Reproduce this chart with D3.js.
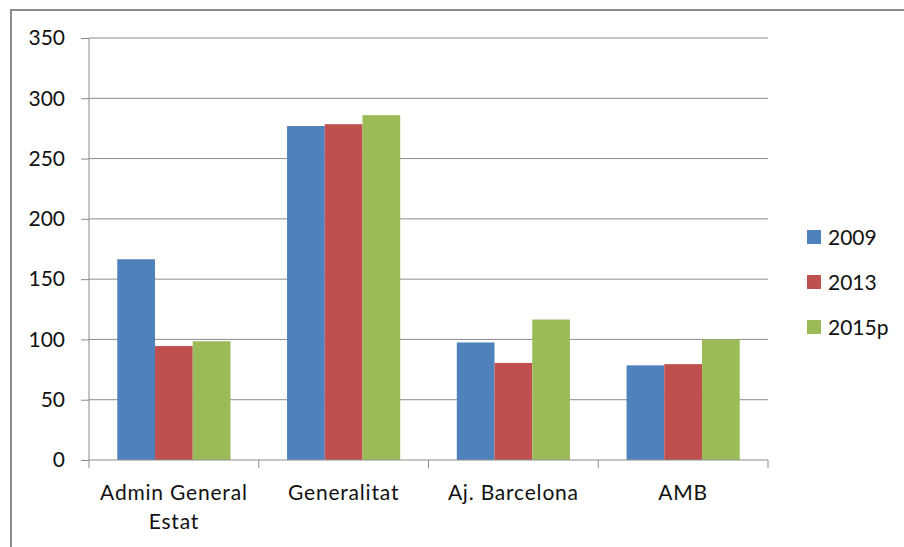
<!DOCTYPE html>
<html lang="ca">
<head>
    <meta charset="UTF-8">
    <title>Despesa per administració</title>
    <style>
        body { margin: 0; background: #fff; }
        svg text { font-family: Lato, 'Noto Sans', sans-serif; fill: #111; }
        .cat { letter-spacing: 0.8px; }
    </style>
</head>
<body>
    <svg id="chart" width="904" height="547"></svg>

    <script src="https://d3js.org/d3.v7.min.js"></script>
    <script>
        // data
        const categories = [["Admin General", "Estat"], ["Generalitat"], ["Aj. Barcelona"], ["AMB"]];
        const seriesNames = ["2009", "2013", "2015p"];
        const values2009 = [166.5, 277, 97.5, 78.5];
        const values2013 = [94.5, 278.5, 80.5, 79.5];
        const values2015p = [98.5, 286, 116.5, 100];
        const yTicks = [0, 50, 100, 150, 200, 250, 300, 350];
        const colors = ["#4F81BD", "#C0504D", "#9BBB59"];

        const allSeries = [values2009, values2013, values2015p];
        const svg = d3.select("#chart");

        // outer frame (only top and left edges are in view)
        svg.append("path")
            .attr("d", "M11,560 V10 H910")
            .attr("fill", "none")
            .attr("stroke", "#8a8a8a")
            .attr("stroke-width", 2);

        const plotL = 89, plotR = 768, plotT = 38, plotB = 460;

        const x0 = d3.scaleBand()
            .domain(d3.range(categories.length))
            .range([plotL, plotR])
            .paddingInner(0)
            .paddingOuter(0);

        const bw = x0.bandwidth() / 4.5;   // gap width 150%

        const y = d3.scaleLinear().domain([0, 350]).range([plotB, plotT]);

        // gridlines
        svg.append("g")
            .selectAll("line")
            .data(yTicks.slice(1))
            .join("line")
            .attr("x1", plotL).attr("x2", plotR)
            .attr("y1", d => y(d)).attr("y2", d => y(d))
            .attr("stroke", "#8c8c8c")
            .attr("stroke-width", 1);

        // bars
        seriesNames.forEach((name, s) => {
            svg.append("g")
                .selectAll("rect")
                .data(allSeries[s])
                .join("rect")
                .attr("x", (d, i) => x0(i) + bw * 0.75 + s * bw)
                .attr("width", bw)
                .attr("y", d => y(d))
                .attr("height", d => y(0) - y(d))
                .attr("fill", colors[s]);
        });

        // y axis
        const yAxis = svg.append("g")
            .attr("transform", `translate(${plotL},0)`)
            .call(d3.axisLeft(y).tickValues(yTicks).tickSize(8).tickPadding(16));
        yAxis.select(".domain").attr("stroke", "#8c8c8c").attr("d", `M0,${plotB}V${plotT}`);
        yAxis.selectAll(".tick line").attr("stroke", "#8c8c8c");
        yAxis.selectAll("text")
            .attr("font-size", 21)
            .attr("fill", null);
        yAxis.attr("font-family", null).attr("font-size", null);

        // x axis
        const xAxis = svg.append("g")
            .attr("transform", `translate(0,${plotB})`);
        xAxis.append("line")
            .attr("x1", plotL).attr("x2", plotR)
            .attr("stroke", "#8c8c8c");
        xAxis.selectAll(".xt")
            .data(d3.range(categories.length + 1))
            .join("line")
            .attr("x1", i => plotL + i * x0.bandwidth())
            .attr("x2", i => plotL + i * x0.bandwidth())
            .attr("y1", 0).attr("y2", 8)
            .attr("stroke", "#8c8c8c");

        const labels = svg.append("g")
            .selectAll("text")
            .data(categories)
            .join("text")
            .attr("class", "cat")
            .attr("text-anchor", "middle")
            .attr("font-size", 21)
            .attr("x", (d, i) => x0(i) + x0.bandwidth() / 2)
            .attr("y", 500);
        labels.selectAll("tspan")
            .data(d => d)
            .join("tspan")
            .attr("x", function () { return this.parentNode.getAttribute("x"); })
            .attr("dy", (d, i) => i === 0 ? 0 : 29)
            .text(d => d);

        // legend
        const legend = svg.append("g")
            .selectAll("g")
            .data(seriesNames)
            .join("g")
            .attr("transform", (d, i) => `translate(807,${237 + i * 45})`);
        legend.append("rect")
            .attr("x", 0).attr("y", -7)
            .attr("width", 14).attr("height", 14)
            .attr("fill", (d, i) => colors[i]);
        legend.append("text")
            .attr("x", 21)
            .attr("y", 7.5)
            .attr("font-size", 21)
            .text(d => d);
    </script>
</body>
</html>
